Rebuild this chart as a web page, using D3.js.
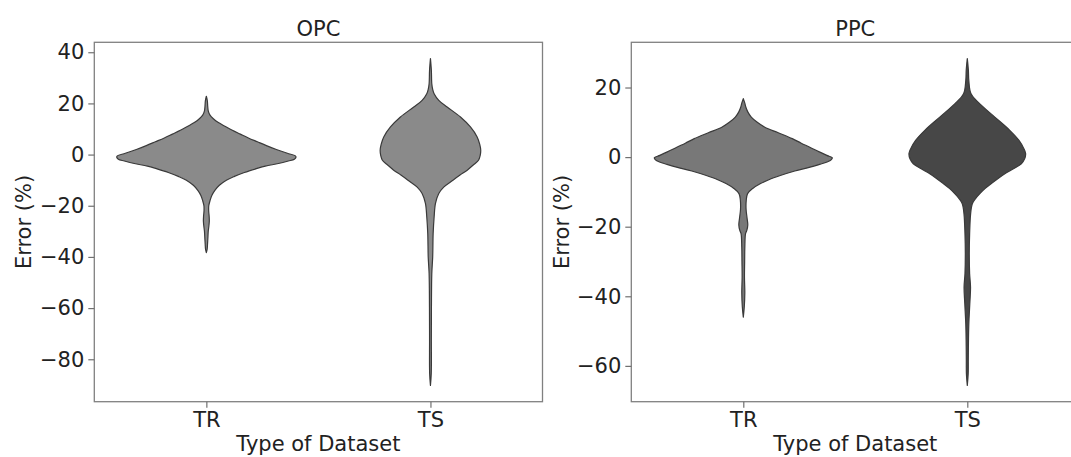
<!DOCTYPE html>
<html>
<head>
<meta charset="utf-8">
<script src="https://cdn.jsdelivr.net/npm/d3@7"></script>
<style>
  body { margin: 0; background: #fff; }
  text { font-family: "DejaVu Sans", sans-serif; fill: #222; }
</style>
</head>
<body>
<svg id="chart" width="1071" height="457"></svg>
<script>
// ---- data -------------------------------------------------------------
const categories = ["TR", "TS"];
const panelTitles = ["OPC", "PPC"];
const xAxisLabel = "Type of Dataset";
const yAxisLabel = "Error (%)";

const opcTicks = [-80, -60, -40, -20, 0, 20, 40];
const ppcTicks = [-60, -40, -20, 0, 20];

// kernel density profiles: error level (%) and relative density (1 = widest)
const opcTrError = [22.8, 21, 19, 17, 15.5, 14, 12.5, 11, 9.5, 8, 6.5, 5, 3.5, 2, 0.5, -0.5, -1, -1.8, -2.5, -3.5, -4.5, -5.5, -7, -8.5, -10, -12, -14, -16, -18, -20, -22, -24, -26, -28, -30, -32, -35, -37, -38.3];
const opcTrDensity = [0, 0.011, 0.015, 0.022, 0.039, 0.078, 0.134, 0.212, 0.29, 0.379, 0.469, 0.569, 0.67, 0.781, 0.904, 0.993, 1.0, 0.982, 0.915, 0.804, 0.658, 0.558, 0.424, 0.313, 0.223, 0.145, 0.095, 0.061, 0.041, 0.027, 0.026, 0.031, 0.033, 0.028, 0.021, 0.018, 0.013, 0.009, 0];

const opcTsError = [37.5, 33, 29, 27.7, 25.5, 23.8, 21.2, 18.6, 14.7, 10.8, 6.9, 4, 1.7, -0.3, -2.2, -4, -6.1, -8, -10, -12.7, -15.2, -19.1, -24.4, -30.9, -40, -46.5, -59.6, -72.6, -85.6, -90.2];
const opcTsDensity = [0, 0.01, 0.013, 0.015, 0.025, 0.041, 0.093, 0.186, 0.335, 0.446, 0.521, 0.55, 0.561, 0.555, 0.536, 0.48, 0.41, 0.33, 0.251, 0.148, 0.093, 0.056, 0.041, 0.03, 0.025, 0.015, 0.011, 0.01, 0.009, 0];

const ppcTrError = [16.8, 15.5, 14.4, 13, 11.5, 10, 8.6, 7, 5.3, 4, 2.9, 1.5, 0.5, -0.2, -0.8, -1.4, -2.1, -2.9, -4, -5.3, -6.5, -7.6, -9, -10.5, -12.4, -15, -17.5, -19.5, -21, -22, -26, -30, -34.5, -39, -43, -46];
const ppcTrDensity = [0, 0.017, 0.028, 0.05, 0.089, 0.156, 0.24, 0.39, 0.547, 0.647, 0.737, 0.848, 0.932, 0.993, 0.98, 0.935, 0.85, 0.745, 0.575, 0.413, 0.285, 0.193, 0.105, 0.048, 0.033, 0.031, 0.042, 0.05, 0.04, 0.025, 0.017, 0.015, 0.013, 0.017, 0.011, 0];

const ppcTsError = [28.3, 25, 22, 18.2, 15.3, 11.5, 7.7, 4.8, 2.5, 1.0, -0.5, -1.9, -3.3, -4.8, -6.2, -7.6, -9, -10.5, -12, -13.4, -16.3, -22, -27.8, -33.5, -37.4, -42.1, -47.9, -52.7, -58.4, -62.2, -65.6];
const ppcTsDensity = [0, 0.012, 0.017, 0.042, 0.14, 0.307, 0.474, 0.577, 0.63, 0.651, 0.64, 0.603, 0.52, 0.419, 0.34, 0.268, 0.2, 0.14, 0.09, 0.056, 0.037, 0.026, 0.022, 0.026, 0.036, 0.028, 0.017, 0.013, 0.011, 0.01, 0];

const opcFills = ["#8a8a8a", "#8a8a8a"];
const ppcFills = ["#787878", "#474747"];

// ---- layout -----------------------------------------------------------
const svg = d3.select("#chart");
const plotTop = 42.3, plotBottom = 401.7;

const panels = [
  { title: panelTitles[0], x0: 94.3, x1: 542.5, ticks: opcTicks, fills: opcFills,
    series: [[opcTrError, opcTrDensity], [opcTsError, opcTsDensity]], labelX: 31 },
  { title: panelTitles[1], x0: 631.3, x1: 1079.3, ticks: ppcTicks, fills: ppcFills,
    series: [[ppcTrError, ppcTrDensity], [ppcTsError, ppcTsDensity]], labelX: 568.5 }
];

// relative density -> half violin width in category units
const halfWidth = d3.scaleLinear().domain([0, 1]).range([0, 0.4]);

panels.forEach(p => {
  const g = svg.append("g");

  // y limits: data range with 5% margins
  const all = p.series.flatMap(s => s[0]);
  const lo = d3.min(all), hi = d3.max(all), pad = (hi - lo) * 0.05;
  const y = d3.scaleLinear().domain([lo - pad, hi + pad]).range([plotBottom, plotTop]);
  const x = d3.scaleLinear().domain([-0.5, 1.5]).range([p.x0, p.x1]);

  // violins
  p.series.forEach(([errs, dens], ci) => {
    const pts = errs.map((e, i) => ({ e, d: dens[i] }));
    const area = d3.area()
      .curve(d3.curveCatmullRom.alpha(0.5))
      .y(q => y(q.e))
      .x0(q => x(ci - halfWidth(q.d)))
      .x1(q => x(ci + halfWidth(q.d)));
    g.append("path")
      .datum(pts)
      .attr("d", area)
      .attr("fill", p.fills[ci])
      .attr("stroke", "#3a3a3a")
      .attr("stroke-width", 1.2)
      .attr("stroke-linejoin", "round");
  });

  // frame
  g.append("rect")
    .attr("x", p.x0).attr("y", plotTop)
    .attr("width", p.x1 - p.x0).attr("height", plotBottom - plotTop)
    .attr("fill", "none").attr("stroke", "#808080").attr("stroke-width", 1.3);

  // y axis
  const yAxis = g.append("g")
    .attr("transform", `translate(${p.x0},0)`)
    .call(d3.axisLeft(y).tickValues(p.ticks).tickSize(6).tickPadding(4));
  yAxis.select(".domain").remove();
  yAxis.selectAll(".tick line").attr("stroke", "#707070").attr("stroke-width", 1.2);
  yAxis.selectAll(".tick text").style("font-size", "21px").attr("fill", "#222");

  // x axis
  const xAxis = g.append("g")
    .attr("transform", `translate(0,${plotBottom})`)
    .call(d3.axisBottom(x).tickValues([0, 1]).tickFormat(i => categories[i]).tickSize(6).tickPadding(4));
  xAxis.select(".domain").remove();
  xAxis.selectAll(".tick line").attr("stroke", "#707070").attr("stroke-width", 1.2);
  xAxis.selectAll(".tick text").style("font-size", "21px").attr("fill", "#222");

  const cx = (p.x0 + p.x1) / 2;
  g.append("text")
    .attr("x", cx).attr("y", 35.5)
    .attr("text-anchor", "middle")
    .style("font-size", "21px")
    .text(p.title);

  g.append("text")
    .attr("x", cx).attr("y", 451)
    .attr("text-anchor", "middle")
    .style("font-size", "21px")
    .text(xAxisLabel);

  g.append("text")
    .attr("transform", `translate(${p.labelX},${(plotTop + plotBottom) / 2}) rotate(-90)`)
    .attr("text-anchor", "middle")
    .style("font-size", "21px")
    .text(yAxisLabel);
});
</script>
</body>
</html>
